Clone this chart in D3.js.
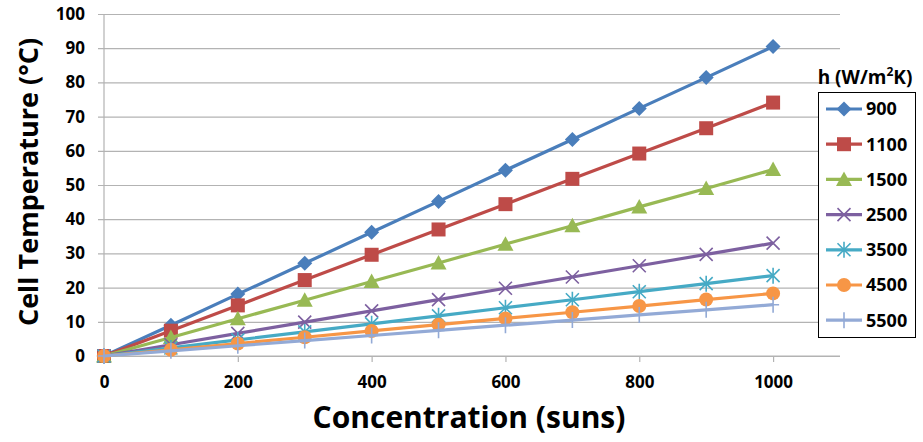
<!DOCTYPE html>
<html>
<head>
<meta charset="utf-8">
<script src="https://cdn.jsdelivr.net/npm/d3@7"></script>
<style>
  html, body { margin: 0; padding: 0; background: #fff; }
  svg { display: block; font-family: "Open Sans", "Liberation Sans", sans-serif; }
</style>
</head>
<body>
<svg id="chart" width="923" height="442"></svg>
<script>
// Concentration levels (suns)
const concentration = [0, 100, 200, 300, 400, 500, 600, 700, 800, 900, 1000];

// Heat transfer coefficients h (W/m²K), one series per value
const hLabels = ["900", "1100", "1500", "2500", "3500", "4500", "5500"];

// Cell temperature (°C) for each h at each concentration
const t900  = [0, 9.0, 18.1, 27.1, 36.2, 45.2, 54.3, 63.3, 72.4, 81.4, 90.5];
const t1100 = [0, 7.4, 14.8, 22.2, 29.6, 37.0, 44.4, 51.8, 59.2, 66.6, 74.1];
const t1500 = [0, 5.4, 10.9, 16.3, 21.8, 27.2, 32.7, 38.1, 43.6, 49.0, 54.5];
const t2500 = [0, 3.3, 6.6, 9.9, 13.2, 16.5, 19.8, 23.1, 26.4, 29.7, 33.0];
const t3500 = [0, 2.35, 4.7, 7.05, 9.4, 11.75, 14.1, 16.45, 18.8, 21.15, 23.5];
const t4500 = [0, 1.83, 3.66, 5.49, 7.32, 9.15, 11.0, 12.8, 14.6, 16.5, 18.3];
const t5500 = [0, 1.5, 3.0, 4.5, 6.0, 7.5, 9.0, 10.5, 12.0, 13.5, 15.0];

const seriesValues = [t900, t1100, t1500, t2500, t3500, t4500, t5500];
const seriesColors = ["#4A7EBB", "#BE4B48", "#98B954", "#7D60A0", "#46AAC5", "#F79646", "#93AAD6"];
const seriesMarkers = ["diamond", "square", "triangle", "x", "star", "circle", "plus"];

const xTicks = [0, 200, 400, 600, 800, 1000];
const yTicks = [0, 10, 20, 30, 40, 50, 60, 70, 80, 90, 100];

const svg = d3.select("#chart");
const plotLeft = 104, plotRight = 840, plotTop = 14, plotBottom = 356;

const x = d3.scaleLinear().domain([0, 1100]).range([plotLeft, plotRight]);
const y = d3.scaleLinear().domain([0, 100]).range([plotBottom, plotTop]);

const gridColor = "#B3B3B3";

// Horizontal gridlines with left tick marks
const yAxis = d3.axisLeft(y).tickValues(yTicks).tickSize(-(plotRight - plotLeft)).tickPadding(14);
const gy = svg.append("g").attr("transform", `translate(${plotLeft},0)`).call(yAxis);
gy.select(".domain").remove();
gy.selectAll(".tick line").attr("stroke", gridColor).attr("stroke-width", 1.2).attr("x1", -6);
gy.selectAll(".tick text")
  .attr("fill", "#000").attr("font-size", 17).attr("font-weight", "bold")
  .attr("font-family", "'Open Sans', sans-serif").attr("x", -19);

// Bottom axis with tick marks and labels
const xAxis = d3.axisBottom(x).tickValues(xTicks).tickFormat(d3.format("d")).tickSize(6).tickPadding(14);
const gx = svg.append("g").attr("transform", `translate(0,${plotBottom})`).call(xAxis);
gx.select(".domain").attr("stroke", gridColor).attr("stroke-width", 1.2).attr("d", `M${plotLeft},0H${plotRight}`);
gx.selectAll(".tick line").attr("stroke", gridColor).attr("stroke-width", 1.2);
gx.selectAll(".tick text")
  .attr("fill", "#000").attr("font-size", 17).attr("font-weight", "bold")
  .attr("font-family", "'Open Sans', sans-serif");

// Vertical axis line
svg.append("line")
  .attr("x1", plotLeft).attr("x2", plotLeft).attr("y1", plotTop).attr("y2", plotBottom + 6)
  .attr("stroke", gridColor).attr("stroke-width", 1.2);

// Marker drawing helper
function drawMarker(g, type, color, cx, cy) {
  const s = g.append("g").attr("transform", `translate(${cx},${cy})`);
  switch (type) {
    case "diamond":
      s.append("path").attr("d", "M0,-7.5L7.5,0L0,7.5L-7.5,0Z").attr("fill", color);
      break;
    case "square":
      s.append("rect").attr("x", -7).attr("y", -7).attr("width", 14).attr("height", 14).attr("fill", color);
      break;
    case "triangle":
      s.append("path").attr("d", "M0,-8L8,6.5L-8,6.5Z").attr("fill", color);
      break;
    case "x":
      s.append("path").attr("d", "M-6.5,-6.5L6.5,6.5M-6.5,6.5L6.5,-6.5").attr("stroke", color).attr("stroke-width", 1.6);
      break;
    case "star":
      s.append("path").attr("d", "M-6.5,-6.5L6.5,6.5M-6.5,6.5L6.5,-6.5M0,-8V8").attr("stroke", color).attr("stroke-width", 1.6);
      break;
    case "circle":
      s.append("circle").attr("r", 7).attr("fill", color);
      break;
    case "plus":
      s.append("path").attr("d", "M0,-8V8M-6,0H6").attr("stroke", color).attr("stroke-width", 1.6);
      break;
  }
}

const line = d3.line().x(d => x(d[0])).y(d => y(d[1]));
const plot = svg.append("g");

seriesValues.forEach((vals, i) => {
  const pts = concentration.map((c, j) => [c, vals[j]]);
  const g = plot.append("g");
  g.append("path").datum(pts).attr("d", line)
    .attr("fill", "none").attr("stroke", seriesColors[i]).attr("stroke-width", 3.2)
    .attr("stroke-linejoin", "round");
  pts.forEach(p => drawMarker(g, seriesMarkers[i], seriesColors[i], x(p[0]), y(p[1])));
});

// Axis titles
svg.append("text")
  .attr("transform", "translate(38,182) rotate(-90)")
  .attr("text-anchor", "middle")
  .attr("font-size", 27).attr("font-weight", "bold")
  .text("Cell Temperature (°C)");

svg.append("text")
  .attr("x", 469).attr("y", 428)
  .attr("text-anchor", "middle")
  .attr("font-size", 30).attr("font-weight", "bold")
  .text("Concentration (suns)");

// Legend
const legend = svg.append("g");
legend.append("text")
  .attr("x", 865).attr("y", 84)
  .attr("text-anchor", "middle")
  .attr("font-size", 19).attr("font-weight", "bold")
  .html("h (W/m<tspan baseline-shift='super' font-size='12'>2</tspan>K)");

legend.append("rect")
  .attr("x", 818.5).attr("y", 92.5).attr("width", 97).attr("height", 245)
  .attr("fill", "#fff").attr("stroke", "#000").attr("stroke-width", 1);

hLabels.forEach((lab, i) => {
  const ly = 109 + i * 35.2;
  const g = legend.append("g");
  g.append("line").attr("x1", 826).attr("x2", 862).attr("y1", ly).attr("y2", ly)
    .attr("stroke", seriesColors[i]).attr("stroke-width", 3.2);
  drawMarker(g, seriesMarkers[i], seriesColors[i], 844, ly);
  g.append("text").attr("x", 866).attr("y", ly).attr("dy", "0.36em")
    .attr("font-size", 18).attr("font-weight", "bold").text(lab);
});
</script>
</body>
</html>
